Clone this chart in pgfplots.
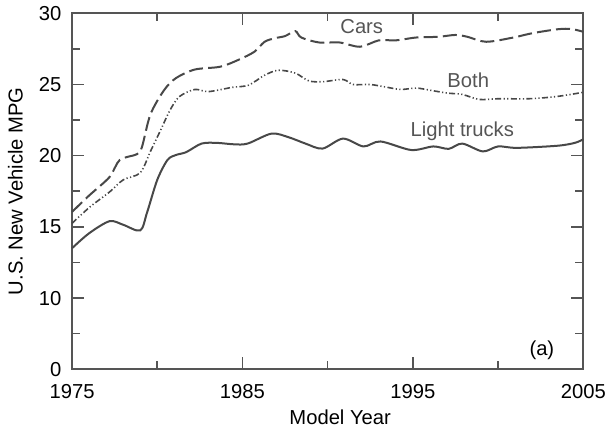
\documentclass[border=0pt]{standalone}
\usepackage{pgfplots}
\pgfplotsset{compat=1.18}
\usepackage{fontspec}
\setmainfont{Liberation Sans}
\definecolor{axgray}{HTML}{555555}
\definecolor{lngray}{HTML}{484848}
\definecolor{txgray}{HTML}{555555}
\begin{document}
\fontsize{10.1}{12}\selectfont
\begin{tikzpicture}
\begin{axis}[
  scale only axis,
  width=255.5pt, height=177.9pt,
  xmin=1975, xmax=2005, ymin=5, ymax=30,
  axis line style={axgray, line width=0.8pt},
  every tick/.style={axgray, line width=0.8pt},
  tick align=inside,
  major tick length=5.9pt,
  minor tick length=3.9pt,
  xtick={1975,1985,1995,2005},
  xticklabels={1975,1985,1995,2005},
  minor xtick={1980,1990,2000},
  ytick={5,10,15,20,25,30},
  yticklabels={0,10,15,20,25,30},
  minor ytick={7.5,12.5,17.5,22.5,27.5},
  /pgf/number format/assume math mode=true,
  tick label style={black, font=\fontsize{10.1}{12}\selectfont},
  xticklabel style={yshift=-4pt},
  yticklabel style={xshift=-1.8pt},
  label style={txgray, font=\fontsize{10.1}{12}\selectfont},
  xlabel={Model Year},
  ylabel={U.S. New Vehicle MPG},
  every axis x label/.style={at={(axis description cs:0.5245,-0.1355)}, anchor=center},
  every axis y label/.style={at={(axis description cs:-0.1106,0.5)}, rotate=90, anchor=center},
  clip=false,
]
% Cars
\addplot[lngray, line width=1pt, smooth, tension=0.5, dash pattern=on 7pt off 2.6pt] coordinates {
(1975,16.05) (1976,17.2) (1977.2,18.5) (1977.8,19.7) (1978.8,20.1) (1979.1,20.6)
(1979.6,22.9) (1980.4,24.6) (1981.1,25.45) (1982.2,26.05) (1983.7,26.25) (1984.8,26.75)
(1985.7,27.3) (1986.3,28.0) (1986.9,28.25) (1987.5,28.4) (1988.1,28.75) (1988.45,28.3)
(1989.5,27.95) (1990.7,27.95) (1991.9,27.65) (1993.0,28.1) (1994.0,28.1) (1995.2,28.3)
(1996.5,28.35) (1997.5,28.48) (1998.2,28.35) (1999.3,28.0) (2000.9,28.3) (2002.0,28.6)
(2003.5,28.88) (2004.3,28.9) (2005,28.7)
};
% Both
\addplot[lngray, line width=0.8pt, smooth, tension=0.5, dash pattern=on 3pt off 1.2pt on 0.6pt off 1.2pt on 0.6pt off 1.2pt] coordinates {
(1975,15.25) (1976.05,16.4) (1977.2,17.45) (1978,18.3) (1979,18.8) (1979.6,20.3)
(1980.2,21.8) (1980.75,23.2) (1981.3,24.15) (1982.2,24.65) (1983.0,24.5) (1984.4,24.8)
(1985.35,24.95) (1986.3,25.65) (1987.1,26.0) (1988.1,25.8) (1988.9,25.25) (1989.75,25.2)
(1990.9,25.35) (1991.5,25.0) (1992.5,25.0) (1993.5,24.8) (1994.3,24.65) (1995.2,24.75)
(1996.0,24.6) (1997.0,24.4) (1997.9,24.3) (1998.9,23.95) (2000.0,24.0) (2001.8,24.0)
(2003.4,24.15) (2005,24.45)
};
% Light trucks
\addplot[lngray, line width=1pt, smooth, tension=0.5] coordinates {
(1975,13.5) (1976,14.55) (1977.2,15.4) (1978.0,15.15) (1979.0,14.75) (1979.4,16.0)
(1980.0,18.3) (1980.6,19.7) (1981.1,20.05) (1981.7,20.25) (1982.6,20.85) (1983.5,20.9)
(1984.5,20.8) (1985.3,20.85) (1986.7,21.55) (1987.7,21.3) (1988.7,20.85) (1989.7,20.5)
(1990.9,21.2) (1992.1,20.65) (1993.1,21.0) (1994.9,20.4) (1996.2,20.65) (1997.1,20.48)
(1997.9,20.85) (1999.1,20.3) (2000.0,20.65) (2001.1,20.55) (2003.5,20.7) (2004.5,20.9)
(2005,21.15)
};
\node[txgray, anchor=base, inner sep=0pt] at (axis cs:1992.0,28.6) {Cars};
\node[txgray, anchor=base, inner sep=0pt] at (axis cs:1998.25,24.78) {Both};
\node[txgray, anchor=base, inner sep=0pt] at (axis cs:1997.9,21.38) {Light trucks};
\node[black, anchor=base, inner sep=0pt] at (axis cs:2002.57,6.0) {(a)};
\coordinate (ll) at (rel axis cs:0,0);
\coordinate (ur) at (rel axis cs:1,1);
\end{axis}
\pgfresetboundingbox
\path[use as bounding box] ([shift={(-36pt,-31.35pt)}]ll) rectangle ([shift={(12.35pt,6.65pt)}]ur);
\end{tikzpicture}
\end{document}
